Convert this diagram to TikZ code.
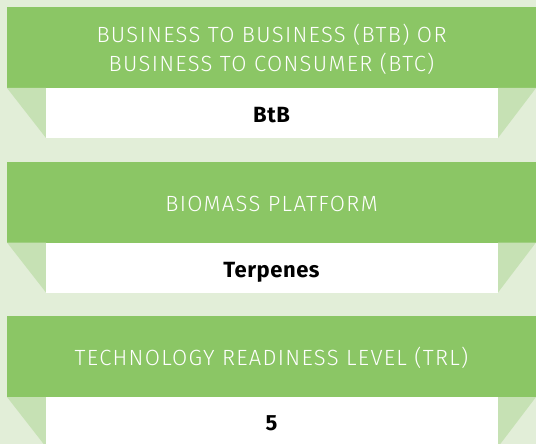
\documentclass[tikz,border=0pt]{standalone}
\usepackage{fontspec}
\setmainfont{Fira Sans}
\newfontfamily\lightfont[LetterSpace=6]{Fira Sans Light}
\newfontfamily\valfont[LetterSpace=2.5]{Fira Sans}
\definecolor{bgc}{RGB}{226,238,216}
\definecolor{hdrc}{RGB}{139,198,101}
\definecolor{tric}{RGB}{198,225,180}
\tikzset{
  hdrtext/.style={anchor=base, text=white, font=\lightfont\fontsize{22}{29}\selectfont, inner sep=0pt},
  valtext/.style={anchor=base, text=black, font=\valfont\bfseries\fontsize{22}{25}\selectfont, inner sep=0pt},
  hdrbar/.style={fill=hdrc},
  fold/.style={fill=tric},
  valbox/.style={fill=white}
}
\begin{document}
\begin{tikzpicture}[x=1pt,y=-1pt]
\useasboundingbox (0,0) rectangle (536,444);
\fill[bgc] (0,0) rectangle (536,444);
\begin{scope}
\clip (0,0) rectangle (536,444);
\foreach \t in {7,161.5,316}{
  \fill[hdrbar] (7,\t) rectangle (536,\t+81);
  \fill[fold] (7,\t+81) -- (46,\t+81) -- (46,\t+131) -- cycle;
  \fill[fold] (498,\t+81) -- (536,\t+81) -- (498,\t+131) -- cycle;
  \fill[valbox] (46,\t+81) rectangle (498,\t+131);
}
\end{scope}
\node[hdrtext] (h1a) at (271.5,43) {BUSINESS TO BUSINESS (BTB) OR};
\node[hdrtext] (h1b) at (271.5,72) {BUSINESS TO CONSUMER (BTC)};
\node[valtext] (v1) at (271.5,122) {BtB};
\node[hdrtext] (h2) at (271.5,211) {BIOMASS PLATFORM};
\node[valtext] (v2) at (271.5,277) {Terpenes};
\node[hdrtext] (h3) at (271.5,365) {TECHNOLOGY READINESS LEVEL (TRL)};
\node[valtext] (v3) at (271.5,430) {5};
\end{tikzpicture}
\end{document}
